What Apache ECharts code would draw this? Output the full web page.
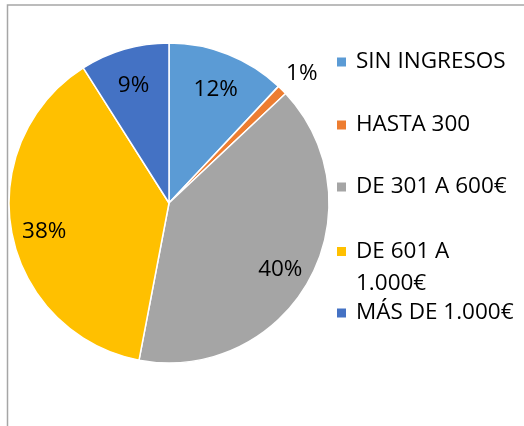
<!DOCTYPE html>
<html>
<head>
<meta charset="utf-8">
<script src="https://cdn.jsdelivr.net/npm/echarts@6/dist/echarts.min.js"></script>
<style>
  html, body { margin: 0; padding: 0; background: #fff; }
  #chart { width: 524px; height: 426px; }
</style>
</head>
<body>
<div id="chart"></div>
<script>
// tramos de ingresos (%)
var categories = ['SIN INGRESOS', 'HASTA 300', 'DE 301 A 600€', 'DE 601 A 1.000€', 'MÁS DE 1.000€'];
var values = [12, 1, 40, 38, 9];
var colors = ['#5B9BD5', '#ED7D31', '#A5A5A5', '#FFC000', '#4472C4'];
// leyenda partida en dos lineas como en el original
var legendLines = { 'DE 601 A 1.000€': ['DE 601 A', '1.000€'] };

var FONT = 'Open Sans';
var CX = 169, CY = 203, R = 160;

var myChart = echarts.init(document.getElementById('chart'));

var pieData = categories.map(function (name, i) {
    return { name: name, value: values[i] };
});

// etiquetas en un anillo transparente para colocarlas a ~0.77 del radio
var labelData = categories.map(function (name, i) {
    var item = { name: name, value: values[i] };
    if (values[i] < 3) {
        item.label = { offset: [43, -40] };   // la del 1% va fuera
    }
    return item;
});

// una leyenda por elemento para respetar el espaciado del original
var legendTops = [46, 109, 171, 203.5, 297];
var legends = categories.map(function (name, i) {
    return {
        data: [name],
        orient: 'vertical',
        left: 335,
        top: legendTops[i],
        padding: 0,
        icon: 'rect',
        itemWidth: 11,
        itemHeight: 11,
        selectedMode: false,
        textStyle: {
            fontFamily: FONT, fontSize: 22.5, color: '#000',
            lineHeight: 32, padding: [0, 0, 0, 4]
        },
        formatter: function (n) {
            return legendLines[n] ? ' \n' + legendLines[n].join('\n') : n;
        }
    };
});

var option = {
    animation: false,
    color: colors,
    legend: legends,
    graphic: [{
        type: 'rect',
        z: -1,
        shape: { x: 7.5, y: 5, width: 600, height: 600 },
        style: { fill: 'none', stroke: '#a6a6a6', lineWidth: 1.5 }
    }],
    series: [{
        type: 'pie',
        center: [CX, CY],
        radius: [0, R],
        startAngle: 90,
        clockwise: true,
        label: { show: false },
        labelLine: { show: false },
        emphasis: { disabled: true },
        itemStyle: { borderColor: '#fff', borderWidth: 1.5 },
        data: pieData
    }, {
        type: 'pie',
        center: [CX, CY],
        radius: [88, R],
        startAngle: 90,
        clockwise: true,
        silent: true,
        legendHoverLink: false,
        itemStyle: { color: 'transparent', borderWidth: 0 },
        label: {
            show: true,
            position: 'inside',
            formatter: '{c}%',
            offset: [0, 5],
            fontFamily: FONT,
            fontSize: 22.5,
            color: '#000'
        },
        labelLine: { show: false },
        emphasis: { disabled: true },
        data: labelData
    }]
};
myChart.setOption(option);
</script>
</body>
</html>
